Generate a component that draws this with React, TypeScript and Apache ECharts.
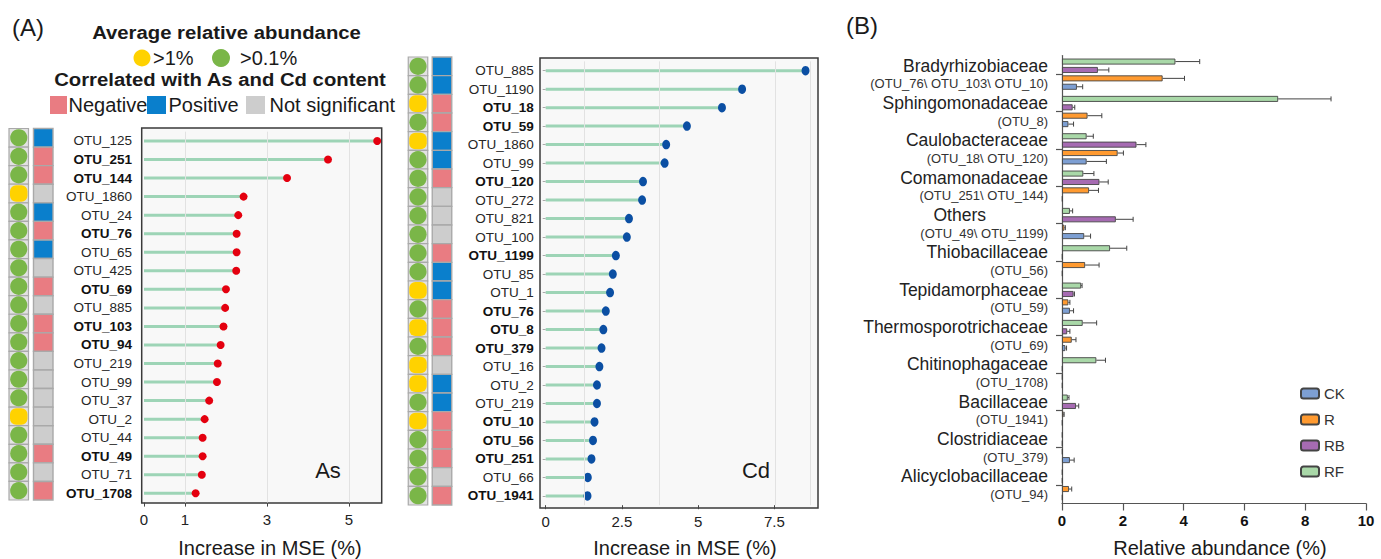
import React, { useEffect, useRef } from 'react';
import * as echarts from 'echarts';

const FONT = '"Liberation Sans", Arial, Helvetica, sans-serif';

// ---------- Panel A : As ----------
const asOtus = ['OTU_125', 'OTU_251', 'OTU_144', 'OTU_1860', 'OTU_24', 'OTU_76', 'OTU_65', 'OTU_425', 'OTU_69', 'OTU_885', 'OTU_103', 'OTU_94', 'OTU_219', 'OTU_99', 'OTU_37', 'OTU_2', 'OTU_44', 'OTU_49', 'OTU_71', 'OTU_1708'];
const asMse = [5.69, 4.49, 3.49, 2.43, 2.30, 2.26, 2.26, 2.25, 2.00, 1.98, 1.94, 1.87, 1.80, 1.78, 1.59, 1.48, 1.43, 1.43, 1.41, 1.26];
const asAbund = ['>0.1%', '>0.1%', '>0.1%', '>1%', '>0.1%', '>0.1%', '>0.1%', '>0.1%', '>0.1%', '>0.1%', '>0.1%', '>0.1%', '>0.1%', '>0.1%', '>0.1%', '>1%', '>0.1%', '>0.1%', '>0.1%', '>0.1%'];
const asCorr = ['pos', 'neg', 'neg', 'ns', 'pos', 'neg', 'pos', 'ns', 'neg', 'ns', 'neg', 'neg', 'ns', 'ns', 'ns', 'ns', 'ns', 'neg', 'ns', 'neg'];
const asTicks = [0, 1, 3, 5];
const asGrid = [1, 3, 5];

// ---------- Panel A : Cd ----------
const cdOtus = ['OTU_885', 'OTU_1190', 'OTU_18', 'OTU_59', 'OTU_1860', 'OTU_99', 'OTU_120', 'OTU_272', 'OTU_821', 'OTU_100', 'OTU_1199', 'OTU_85', 'OTU_1', 'OTU_76', 'OTU_8', 'OTU_379', 'OTU_16', 'OTU_2', 'OTU_219', 'OTU_10', 'OTU_56', 'OTU_251', 'OTU_66', 'OTU_1941'];
const cdMse = [8.52, 6.44, 5.78, 4.63, 3.95, 3.90, 3.19, 3.16, 2.73, 2.66, 2.30, 2.20, 2.11, 1.97, 1.89, 1.83, 1.76, 1.68, 1.68, 1.60, 1.55, 1.50, 1.38, 1.37];
const cdAbund = ['>0.1%', '>0.1%', '>1%', '>0.1%', '>1%', '>0.1%', '>0.1%', '>0.1%', '>0.1%', '>0.1%', '>0.1%', '>0.1%', '>1%', '>0.1%', '>1%', '>0.1%', '>1%', '>1%', '>0.1%', '>1%', '>0.1%', '>0.1%', '>0.1%', '>0.1%'];
const cdCorr = ['pos', 'pos', 'neg', 'neg', 'pos', 'pos', 'neg', 'ns', 'ns', 'ns', 'neg', 'pos', 'pos', 'neg', 'neg', 'neg', 'ns', 'pos', 'pos', 'neg', 'neg', 'neg', 'ns', 'neg'];
const cdTicks = [0, 2.5, 5, 7.5];
const cdGrid = [1.26, 3.71, 7.52, 8.67];

// ---------- Panel B ----------
const families = ['Bradyrhizobiaceae', 'Sphingomonadaceae', 'Caulobacteraceae', 'Comamonadaceae', 'Others', 'Thiobacillaceae', 'Tepidamorphaceae', 'Thermosporotrichaceae', 'Chitinophagaceae', 'Bacillaceae', 'Clostridiaceae', 'Alicyclobacillaceae'];
const familyOtus = ['(OTU_76\\ OTU_103\\ OTU_10)', '(OTU_8)', '(OTU_18\\ OTU_120)', '(OTU_251\\ OTU_144)', '(OTU_49\\ OTU_1199)', '(OTU_56)', '(OTU_59)', '(OTU_69)', '(OTU_1708)', '(OTU_1941)', '(OTU_379)', '(OTU_94)'];
const ckVals = [0.49, 0.21, 0.81, 0.02, 0.73, 0.02, 0.26, 0.11, 0.02, 0.02, 0.26, 0.02];
const ckErr = [0.19, 0.17, 0.65, 0, 0.21, 0, 0.12, 0.04, 0, 0, 0.14, 0];
const rVals = [3.31, 0.84, 1.83, 0.89, 0.08, 0.76, 0.21, 0.32, 0.02, 0.05, 0.02, 0.23];
const rErr = [0.72, 0.47, 0.19, 0.31, 0.03, 0.46, 0.05, 0.14, 0, 0.02, 0, 0.09];
const rbVals = [1.18, 0.35, 2.45, 1.23, 1.77, 0.02, 0.38, 0.17, 0.02, 0.46, 0.02, 0.02];
const rbErr = [0.36, 0.07, 0.31, 0.29, 0.57, 0, 0.03, 0.09, 0, 0.09, 0, 0];
const rfVals = [3.73, 7.11, 0.81, 0.70, 0.26, 1.58, 0.63, 0.68, 1.13, 0.19, 0.02, 0.02];
const rfErr = [0.80, 1.74, 0.22, 0.35, 0.09, 0.55, 0.03, 0.46, 0.30, 0.04, 0, 0];
const bTicks = [0, 2, 4, 6, 8, 10];

const GREEN = '#7ab648';
const YELLOW = '#ffd200';
const NEG = '#e97c82';
const POS = '#0a7fcc';
const NS = '#cdcdcd';

const BAR_W = 6;
const BAR_GAP = 0.4;

function indicatorData(abund: string[], corr: string[]) {
  const d: number[][] = [];
  abund.forEach((a, i) => d.push([0, i, a === '>1%' ? 1 : 0]));
  corr.forEach((c, i) => d.push([1, i, c === 'neg' ? -1 : c === 'pos' ? 1 : 0]));
  return d;
}

function indicatorRender(params: any, api: any) {
  const col = api.value(0);
  const row = api.value(1);
  const code = api.value(2);
  const c = api.coord([col, row]);
  const h = api.size([0, 1])[1];
  const w = 19.5;
  const x = c[0] - w / 2;
  const y = c[1] - h / 2;
  const children: any[] = [];
  if (col === 0) {
    children.push({ type: 'rect', shape: { x, y, width: w, height: h }, style: { fill: '#e2e2e2', stroke: '#a9a9a9', lineWidth: 1.2 } });
    if (code === 1) {
      children.push({ type: 'rect', shape: { x: x + 1, y: y + 1, width: w - 2, height: h - 2, r: 6 }, style: { fill: YELLOW } });
    } else {
      children.push({ type: 'circle', shape: { cx: c[0], cy: c[1], r: Math.min(w, h) / 2 - 0.7 }, style: { fill: GREEN } });
    }
  } else {
    const color = code === -1 ? NEG : code === 1 ? POS : NS;
    children.push({ type: 'rect', shape: { x, y, width: w, height: h }, style: { fill: color, stroke: '#a9a9a9', lineWidth: 1.4 } });
  }
  return { type: 'group', children };
}

function errData(vals: number[], errs: number[]) {
  const d: number[][] = [];
  vals.forEach((v, i) => {
    if (errs[i] > 0) d.push([i, v, errs[i]]);
  });
  return d;
}

function makeErrRender(slot: number) {
  const step = BAR_W * (1 + BAR_GAP);
  const total = 4 * BAR_W + 3 * BAR_W * BAR_GAP;
  const off = -total / 2 + slot * step + BAR_W / 2;
  return (params: any, api: any) => {
    const cat = api.value(0);
    const v = api.value(1);
    const e = api.value(2);
    const p0 = api.coord([v, cat]);
    const p1 = api.coord([v + e, cat]);
    const y = p0[1] + off;
    return {
      type: 'group',
      children: [
        { type: 'line', shape: { x1: p0[0], y1: y, x2: p1[0], y2: y }, style: { stroke: '#444', lineWidth: 1 } },
        { type: 'line', shape: { x1: p1[0], y1: y - 2.5, x2: p1[0], y2: y + 2.5 }, style: { stroke: '#444', lineWidth: 1 } },
      ],
    };
  };
}

function otuLabelFormatter(corr: string[]) {
  return (v: string, i: number) => (corr[i] === 'neg' ? `{b|${v}}` : `{n|${v}}`);
}

const otuRich = {
  n: { fontSize: 13.5, color: '#262626', fontFamily: FONT },
  b: { fontSize: 13.5, color: '#111', fontWeight: 'bold', fontFamily: FONT },
};

function txt(text: string, x: number, y: number, size: number, opts: any = {}) {
  return {
    type: 'text',
    x,
    y,
    scaleX: opts.scaleX || 1,
    z: 50,
    style: {
      text,
      fill: opts.color || '#1a1a1a',
      fontSize: size,
      fontFamily: FONT,
      fontWeight: opts.bold ? 'bold' : 'normal',
      align: opts.align || 'left',
      textAlign: opts.align || 'left',
      verticalAlign: 'middle',
      textVerticalAlign: 'middle',
    },
  };
}

function buildOption() {
  const bSeriesDefs = [
    { name: 'RF', vals: rfVals, errs: rfErr, color: '#a9d8a8' },
    { name: 'RB', vals: rbVals, errs: rbErr, color: '#a66bb2' },
    { name: 'R', vals: rVals, errs: rErr, color: '#ff9a30' },
    { name: 'CK', vals: ckVals, errs: ckErr, color: '#7d9fd3' },
  ];

  const graphic: any[] = [
    // plot boxes
    { type: 'rect', z: 0, shape: { x: 141.7, y: 128, width: 240, height: 375 }, style: { fill: '#f8f8f8', stroke: '#3a3a3a', lineWidth: 1.5 } },
    { type: 'rect', z: 0, shape: { x: 540, y: 58, width: 278, height: 450 }, style: { fill: '#f8f8f8', stroke: '#3a3a3a', lineWidth: 1.5 } },
    // panel tags
    txt('(A)', 28, 27, 24, { align: 'center' }),
    txt('(B)', 862, 25, 24, { align: 'center' }),
    // legend of panel A
    txt('Average relative abundance', 226.5, 33, 17.5, { bold: true, align: 'center', scaleX: 1.16 }),
    { type: 'circle', z: 50, shape: { cx: 142, cy: 58, r: 8.5 }, style: { fill: YELLOW } },
    txt('>1%', 153, 58, 20),
    { type: 'circle', z: 50, shape: { cx: 221, cy: 58, r: 9 }, style: { fill: GREEN } },
    txt('>0.1%', 240, 58, 20),
    txt('Correlated with As and Cd content', 220, 80, 17.5, { bold: true, align: 'center', scaleX: 1.16 }),
    { type: 'rect', z: 50, shape: { x: 50, y: 96, width: 17, height: 18 }, style: { fill: NEG } },
    txt('Negative', 68.5, 105, 20),
    { type: 'rect', z: 50, shape: { x: 147, y: 96, width: 19, height: 18 }, style: { fill: POS } },
    txt('Positive', 168.5, 105, 20),
    { type: 'rect', z: 50, shape: { x: 246, y: 96, width: 19, height: 18 }, style: { fill: NS } },
    txt('Not significant', 269.5, 105, 20),
    // in-plot labels
    txt('As', 328, 470, 22, { align: 'center' }),
    txt('Cd', 756, 470, 22, { align: 'center' }),
    // axis titles
    txt('Increase in MSE (%)', 270, 548, 20, { align: 'center' }),
    txt('Increase in MSE (%)', 685, 548, 20, { align: 'center' }),
    txt('Relative abundance (%)', 1220, 548, 20, { align: 'center' }),
  ];

  const valueXAxisBase = (gridIndex: number, max: number, ticks: number[]) => ({
    type: 'value',
    gridIndex,
    min: 0,
    max,
    axisLine: { show: false },
    axisTick: { show: true, length: 4, lineStyle: { color: '#444' }, customValues: ticks },
    axisLabel: { customValues: ticks, fontSize: 15, color: '#222', fontFamily: FONT, margin: 9 },
    splitLine: { show: false },
  });

  const otuYAxis = (gridIndex: number, data: string[], corr: string[], ticks: boolean) => ({
    type: 'category',
    gridIndex,
    inverse: true,
    data,
    axisLine: { show: false },
    axisTick: { show: ticks, length: 3, alignWithLabel: true, lineStyle: { color: '#aaa' } },
    axisLabel: { formatter: otuLabelFormatter(corr), rich: otuRich, margin: 12 },
  });

  return {
    animation: false,
    backgroundColor: '#ffffff',
    textStyle: { fontFamily: FONT },
    graphic,
    legend: {
      data: ['CK', 'R', 'RB', 'RF'],
      orient: 'vertical',
      left: 1295,
      top: 381,
      itemWidth: 18,
      itemHeight: 10,
      itemGap: 11,
      textStyle: { fontSize: 15, color: '#333', fontFamily: FONT },
      selectedMode: false,
    },
    grid: [
      { left: 144, top: 131.7, width: 237.7, height: 370.9, show: false },
      { left: 545.7, top: 61.4, width: 272.3, height: 443.8, show: false },
      { left: 1062, top: 55.5, width: 304, height: 448, show: false },
      { left: 6.5, top: 128.5, width: 49, height: 371.5, show: false },
      { left: 406, top: 57, width: 48, height: 448, show: false },
    ],
    xAxis: [
      valueXAxisBase(0, 5.8, asTicks),
      valueXAxisBase(1, 8.93, cdTicks),
      {
        type: 'value',
        gridIndex: 2,
        min: 0,
        max: 10,
        interval: 2,
        axisLine: { show: true, lineStyle: { color: '#555', width: 1.2 } },
        axisTick: { show: true, length: 7, lineStyle: { color: '#555', width: 1.2 } },
        axisLabel: { fontSize: 15, fontWeight: 'bold', color: '#111', fontFamily: FONT, margin: 9, customValues: bTicks },
        splitLine: { show: false },
      },
      { type: 'category', gridIndex: 3, data: ['abundance', 'correlation'], show: false },
      { type: 'category', gridIndex: 4, data: ['abundance', 'correlation'], show: false },
    ],
    yAxis: [
      otuYAxis(0, asOtus, asCorr, false),
      otuYAxis(1, cdOtus, cdCorr, true),
      {
        type: 'category',
        gridIndex: 2,
        inverse: true,
        data: families,
        axisLine: { show: true, lineStyle: { color: '#555', width: 1.2 } },
        axisTick: { show: true, length: 6, alignWithLabel: true, lineStyle: { color: '#555', width: 1.2 } },
        axisLabel: {
          margin: 14,
          formatter: (v: string, i: number) => `{${v === 'Others' ? 'o' : 'n'}|${v}}\n{s|${familyOtus[i]}}`,
          rich: {
            n: { fontSize: 17.5, lineHeight: 19, color: '#222', fontFamily: FONT },
            o: { fontSize: 17.5, lineHeight: 19, color: '#222', fontFamily: FONT, padding: [0, 62, 0, 0] },
            s: { fontSize: 13, lineHeight: 17, color: '#333', fontFamily: FONT },
          },
        },
      },
      { type: 'category', gridIndex: 3, inverse: true, data: asOtus, show: false },
      { type: 'category', gridIndex: 4, inverse: true, data: cdOtus, show: false },
    ],
    series: [
      // gridlines
      {
        type: 'line', xAxisIndex: 0, yAxisIndex: 0, data: [], z: 1, silent: true,
        markLine: { silent: true, symbol: 'none', label: { show: false }, lineStyle: { color: '#e2e2e2', width: 1, type: 'solid' }, data: asGrid.map((v) => ({ xAxis: v })) },
      },
      {
        type: 'line', xAxisIndex: 1, yAxisIndex: 1, data: [], z: 1, silent: true,
        markLine: { silent: true, symbol: 'none', label: { show: false }, lineStyle: { color: '#e2e2e2', width: 1, type: 'solid' }, data: cdGrid.map((v) => ({ xAxis: v })) },
      },
      // As lollipops
      { type: 'bar', name: 'As stem', xAxisIndex: 0, yAxisIndex: 0, data: asMse, barWidth: 3, itemStyle: { color: '#9dd4b6' }, z: 2 },
      { type: 'scatter', name: 'As', xAxisIndex: 0, yAxisIndex: 0, data: asMse.map((v, i) => [v, i]), symbolSize: 8, itemStyle: { color: '#e4000f', opacity: 1 }, z: 3 },
      // Cd lollipops
      { type: 'bar', name: 'Cd stem', xAxisIndex: 1, yAxisIndex: 1, data: cdMse, barWidth: 3, itemStyle: { color: '#9dd4b6' }, z: 2 },
      { type: 'scatter', name: 'Cd', xAxisIndex: 1, yAxisIndex: 1, data: cdMse.map((v, i) => [v, i]), symbolSize: [8, 9.5], itemStyle: { color: '#0b4fa3', opacity: 1 }, z: 3 },
      // Panel B bars
      ...bSeriesDefs.map((s) => ({
        type: 'bar',
        name: s.name,
        xAxisIndex: 2,
        yAxisIndex: 2,
        data: s.vals,
        barWidth: BAR_W,
        barGap: `${BAR_GAP * 100}%`,
        itemStyle: { color: s.color, borderColor: '#444', borderWidth: 0.9 },
        z: 2,
      })),
      ...bSeriesDefs.map((s, k) => ({
        type: 'custom',
        name: s.name + ' err',
        xAxisIndex: 2,
        yAxisIndex: 2,
        encode: { x: 1, y: 0 },
        data: errData(s.vals, s.errs),
        renderItem: makeErrRender(k),
        z: 3,
        silent: true,
      })),
      // indicator columns
      { type: 'custom', name: 'As indicators', xAxisIndex: 3, yAxisIndex: 3, encode: { x: 0, y: 1 }, data: indicatorData(asAbund, asCorr), renderItem: indicatorRender, silent: true },
      { type: 'custom', name: 'Cd indicators', xAxisIndex: 4, yAxisIndex: 4, encode: { x: 0, y: 1 }, data: indicatorData(cdAbund, cdCorr), renderItem: indicatorRender, silent: true },
    ],
  };
}

export default function App() {
  const ref = useRef<HTMLDivElement>(null);
  useEffect(() => {
    if (!ref.current) return;
    const chart = echarts.init(ref.current, null, { renderer: 'svg', width: 1381, height: 559 });
    chart.setOption(buildOption() as any);
    return () => chart.dispose();
  }, []);
  return <div ref={ref} style={{ position: 'fixed', left: 0, top: 0, width: 1381, height: 559, background: '#fff' }} />;
}
